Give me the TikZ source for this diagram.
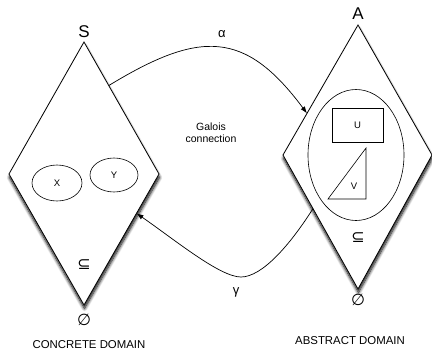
\documentclass[tikz,border=0pt]{standalone}
\usepackage{fontspec}
\setmainfont{Liberation Sans}
\newfontfamily\symfont{DejaVu Sans}
\usetikzlibrary{arrows.meta,shadows.blur,calc,shapes.geometric}
\begin{document}
\begin{tikzpicture}[x=1pt,y=-1pt,
  dom/.style={draw=black,line width=0.8pt,fill=white,line join=miter,
    blur shadow={shadow xshift=0.5pt,shadow yshift=-3.5pt,shadow blur steps=8,shadow blur radius=3pt,shadow opacity=100}},
  part/.style={draw=black,line width=0.6pt},
  conn/.style={draw=black,line width=0.7pt,-{Latex[length=7pt,width=5pt]}},
  small/.style={inner sep=0pt,font=\fontsize{9.5}{11}\selectfont},
  gal/.style={inner sep=0pt,font=\fontsize{10.5}{12}\selectfont},
  big/.style={inner sep=0pt,font=\fontsize{17}{17}\selectfont},
  greek/.style={inner sep=0pt,font=\fontsize{13}{13}\selectfont},
  sym/.style={inner sep=0pt,font=\symfont\fontsize{16}{16}\selectfont},
  domlabel/.style={inner sep=0pt,font=\fontsize{11.4}{11.4}\selectfont}]
\useasboundingbox (0,0) rectangle (432,351);
% concrete domain
\coordinate (Lt) at (84,42);
\coordinate (Lr) at (159,174);
\coordinate (Lb) at (84,305);
\coordinate (Ll) at (9,174);
\path[dom] (Lt) -- (Lr) -- (Lb) -- (Ll) -- cycle;
% abstract domain
\coordinate (Rt) at (358,25);
\coordinate (Rr) at (432,155);
\coordinate (Rb) at (358,289);
\coordinate (Rl) at (283,155);
\path[dom] (Rt) -- (Rr) -- (Rb) -- (Rl) -- cycle;
% contents of concrete domain
\node[part,ellipse,minimum width=50pt,minimum height=36pt,inner sep=0pt] (X) at (57,183) {};
\node[small] (Xl) at (57,183) {X};
\node[part,ellipse,minimum width=48pt,minimum height=34pt,inner sep=0pt] (Y) at (114,175) {};
\node[small] (Yl) at (114,175) {Y};
% contents of abstract domain
\node[part,ellipse,minimum width=96pt,minimum height=131pt,inner sep=0pt] (E) at (356,155) {};
\node[part,rectangle,minimum width=51pt,minimum height=34pt,inner sep=0pt] (U) at (357.5,125) {};
\node[small] (Ul) at (357.5,125) {U};
\coordinate (V1) at (366,148);
\coordinate (V2) at (366,199);
\coordinate (V3) at (328,199);
\draw[part] (V1) -- (V2) -- (V3) -- cycle;
\node[small] (Vl) at (354,186) {V};
% labels
\node[big] (S) at (84,32) {S};
\node[big] (A) at (358,14) {A};
\node[sym] (subL) at (84,265) {⊆};
\node[sym] (subR) at (358,238) {⊆};
\node[sym] (botL) at (84,320) {∅};
\node[sym] (botR) at (358,300) {∅};
\node[domlabel] (cd) at (89,345) {CONCRETE DOMAIN};
\node[domlabel] (ad) at (350,341) {ABSTRACT DOMAIN};
\node[gal,align=center] (gc) at (211,133) {Galois\\connection};
% connectors
\coordinate (a0) at ($(Lt)!0.33!(Lr)$);
\coordinate (a1) at ($(Rt)!0.68!(Rl)$);
\coordinate (g0) at ($(Rl)!0.40!(Rb)$);
\coordinate (g1) at ($(Lr)!0.30!(Lb)$);
\coordinate (gm) at (241,277);
\draw[conn] (a0) .. controls (200,30) and (245,30) .. (a1);
\draw[conn] (g0) .. controls (290,245) and (262,277) .. (gm)
  .. controls (220,277) and (175,240) .. (g1);
\node[greek] (al) at (222,34) {α};
\node[greek] (gl) at (236,292) {γ};
\end{tikzpicture}
\end{document}
